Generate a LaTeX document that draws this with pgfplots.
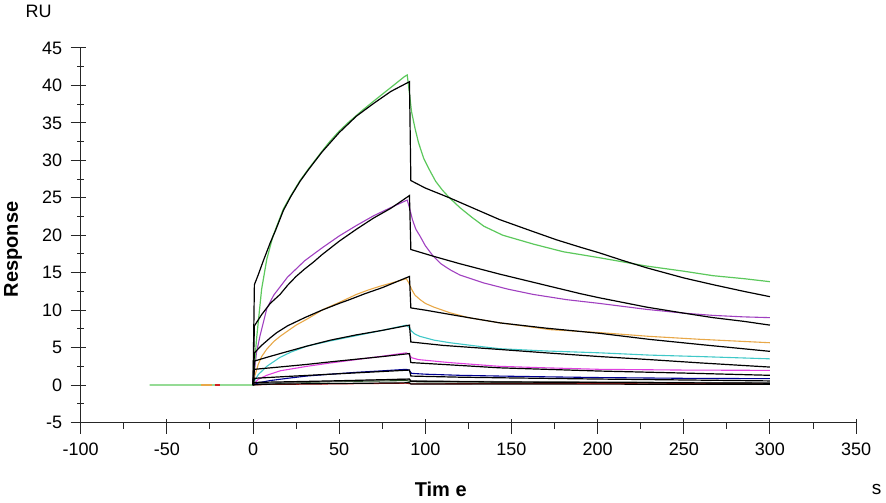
\documentclass[border=0pt]{standalone}
\usepackage{fontspec}
\setmainfont{Liberation Sans}
\usepackage{pgfplots}
\pgfplotsset{compat=1.18}
\definecolor{cgreen}{HTML}{5CC85C}
\definecolor{cviolet}{HTML}{A040C0}
\definecolor{corange}{HTML}{E8A848}
\definecolor{ccyan}{HTML}{40C8C8}
\definecolor{cmag}{HTML}{E040E0}
\definecolor{cnavy}{HTML}{000090}
\definecolor{cgrey}{HTML}{808080}
\definecolor{cdkgreen}{HTML}{1E4A1E}
\definecolor{cred}{HTML}{D02020}
\begin{document}
\begin{tikzpicture}
\begin{axis}[
  at={(0,0)}, anchor=south west,
  scale only axis, width=387.7pt, height=187.25pt,
  xmin=-100, xmax=350, ymin=-5, ymax=45,
  axis lines=left, axis line style={-, black!85, line width=0.5pt},
  xtick={-100,-50,...,350}, ytick={-5,0,...,45},
  minor x tick num=1, minor y tick num=1,
  tick align=center,
  major tick length=7.5pt, minor tick length=3.5pt,
  every major x tick/.append style={yshift=-1.75pt},
  every minor x tick/.append style={yshift=-1.25pt},
  every major y tick/.append style={xshift=-1.25pt},
  tick style={black!85, line width=0.5pt},
  /pgf/number format/assume math mode=true,
  ticklabel style={font=\fontsize{9}{11}\selectfont},
  xticklabel style={yshift=-3pt},
  yticklabel style={xshift=-2pt},
  every axis plot/.append style={line width=0.55pt, mark=none},
]
% --- data curves (lowest first) ---
\addplot[cred] coordinates {(0,0) (5,0.05) (10,0.1) (20,0.1) (45,0.15) (89,0.25) (92,0.15) (150,0.2) (200,0.2) (235,0.15) (250,0.2) (300,0.2)};
\addplot[cdkgreen] coordinates {(0,0) (20,0.3) (45,0.45) (89,0.6) (92,0.45) (200,0.35) (300,0.3)};
\addplot[cgrey] coordinates {(0,0) (3,0.15) (20,0.35) (45,0.5) (70,0.65) (89,0.8) (92,0.6) (120,0.5) (150,0.45) (200,0.4) (250,0.35) (300,0.3)};
\addplot[cnavy] coordinates {(0,0) (3,0.3) (10,0.6) (20,0.9) (31,1.2) (45,1.45) (60,1.7) (75,1.9) (89,2.1) (90.5,2.0) (92,1.56) (100,1.45) (120,1.3) (143,1.2) (170,1.1) (201,1.0) (250,0.9) (300,0.85)};
\addplot[cmag] coordinates {(0,0) (1,0.3) (3,0.76) (8,1.3) (15.7,1.9) (31.3,2.5) (45,2.95) (60,3.4) (75,3.85) (89,4.3) (90.5,4.1) (92,3.65) (96,3.4) (105,3.2) (114,3.0) (143,2.5) (170,2.3) (201,2.1) (250,2.0) (300,1.96)};
\addplot[ccyan] coordinates {(0,0) (1,0.6) (3.1,1.4) (8,2.5) (15.7,3.7) (22,4.4) (31.3,5.2) (45,5.9) (60,6.6) (75,7.3) (89,8.0) (90.5,7.7) (92,7.2) (94,6.8) (96.9,6.5) (105,6.0) (114.3,5.65) (130,5.2) (143.3,4.85) (170,4.55) (201.4,4.3) (230,4.0) (260,3.8) (300,3.5)};
\addplot[corange] coordinates {(0,0) (1,1.2) (3.1,2.8) (5,3.8) (8,4.8) (12,5.8) (15.7,6.5) (20,7.2) (25,8.0) (31.3,8.8) (40.8,10.1) (50.7,11.1) (60,12.1) (67,12.7) (73.8,13.2) (80,13.6) (89,14.2) (90.5,13.6) (92,12.8) (94,12.0) (97,11.4) (100,10.9) (105,10.4) (114.3,9.65) (125,9.0) (143.3,8.3) (160,7.8) (172.3,7.4) (201.4,7.0) (230,6.5) (260,6.1) (300,5.65)};
\addplot[cviolet] coordinates {(0,0) (1,2.2) (2,4.3) (4,6.5) (8,10.2) (12,12) (16,13.2) (20,14.4) (25,15.5) (30,16.6) (40,18.3) (50,19.9) (60,21.3) (70,22.6) (80,23.7) (89.5,24.7) (91,23.5) (92.5,22.1) (94.5,20.8) (96.9,19.9) (100,18.6) (104.6,17.2) (109,16.2) (114.3,15.4) (120,14.7) (133.6,13.65) (148,12.8) (162.6,12.1) (182,11.4) (201,10.9) (228.5,10.1) (250,9.6) (267,9.3) (285,9.1) (300,9.0)};
\addplot[cgreen, line width=0.6pt] coordinates {(-60,0) (0,0) (1,3) (2,6) (3,8.3) (5,12.8) (8,16.8) (11.6,19.9) (17.6,23.5) (22,25.3) (27.3,27.3) (32,28.8) (40,31.2) (44.5,32.5) (50,33.9) (56,35.2) (63.6,36.7) (70,37.9) (76,39) (82,40.1) (88,41.2) (89.5,41.4) (90.5,39.5) (92,36.5) (94,34.3) (96,32.4) (99,30.3) (102,28.9) (106,27.2) (110,26) (114,25) (120,23.7) (127,22.4) (134,21.2) (145,20) (163,18.8) (180,17.8) (201,17.0) (228,15.9) (250,15.2) (267,14.6) (285,14.2) (300,13.8)};
\addplot[corange, line width=0.6pt] coordinates {(-30,0) (-24,0)};
\addplot[cred, line width=0.6pt] coordinates {(-22,0) (-19,0)};
% --- fitted curves (black) ---
\addplot[black, line width=0.6pt] coordinates {(0,0) (0.8,0.1) (90.8,0.3) (91.6,0.15) (300,0.1)};
\addplot[black, line width=0.6pt] coordinates {(0,0) (0.8,0.35) (45,0.55) (90.8,0.8) (91.6,0.5) (150,0.4) (200,0.35) (300,0.25)};
\addplot[black, line width=0.6pt] coordinates {(0,0) (0.8,0.9) (20,1.15) (45,1.45) (70,1.75) (90.8,2.0) (91.6,1.2) (120,1.05) (150,0.95) (201,0.8) (250,0.68) (300,0.55)};
\addplot[black, line width=0.6pt] coordinates {(0,0) (0.8,2.1) (15,2.4) (31,2.75) (45,3.1) (60,3.45) (75,3.8) (90.8,4.2) (91.6,3.0) (114,2.7) (143,2.3) (170,2.1) (201,1.87) (250,1.6) (300,1.3)};
\addplot[black, line width=0.6pt] coordinates {(0,0) (0.8,3.2) (8,3.7) (15.7,4.2) (31.3,5.2) (45,6.0) (60,6.7) (75,7.3) (90.8,8.0) (91.6,5.75) (110,5.3) (143.3,4.75) (170,4.3) (201.4,3.8) (230,3.4) (260,2.95) (300,2.4)};
\addplot[black, line width=0.6pt] coordinates {(0,0) (0.8,4.3) (5,5.3) (10,6.3) (13.8,7.0) (20,7.9) (30,9.0) (40,10.0) (50,10.9) (56,11.4) (65,12.2) (75,13.0) (90.8,14.5) (91.6,10.3) (100,10.0) (120,9.2) (143.3,8.3) (170,7.6) (201.4,6.9) (230,6.1) (260,5.4) (300,4.5)};
\addplot[black, line width=0.6pt] coordinates {(0,0) (0.8,7.9) (5,9.4) (10,10.9) (15.7,12.1) (20,13.3) (25,14.5) (30,15.5) (35,16.4) (40,17.4) (50,19.2) (60,20.8) (70,22.3) (80,23.6) (90.8,25.3) (91.6,18.1) (104.6,17.2) (120,16.2) (143.3,14.8) (172,13.2) (190,12.2) (201,11.65) (228.5,10.4) (250,9.6) (267,9.0) (285,8.5) (300,8.0)};
\addplot[black, line width=0.6pt] coordinates {(0,0) (0.8,13.4) (3,14.7) (6,16.6) (10,19) (13,20.6) (17.6,23.3) (22,25.2) (27.3,27.2) (32,28.7) (40,31.1) (50,33.7) (60,35.9) (70,37.6) (80,39.2) (90.8,40.5) (91.6,27.3) (100,26.3) (114,25.0) (130,23.4) (143,22.1) (160,20.7) (176,19.4) (190,18.4) (201,17.65) (215,16.6) (228.5,15.65) (250,14.3) (267,13.4) (285,12.5) (300,11.8)};
\end{axis}
\node[font=\fontsize{9}{11}\selectfont] at (-21pt,205.5pt) {RU};
\node[font=\fontsize{10}{12}\selectfont\bfseries, rotate=90] at (-33.8pt,86.5pt) {Response};
\node[font=\fontsize{10}{12}\selectfont\bfseries] at (180pt,-33.5pt) {Tim e};
\node[font=\fontsize{9.5}{11}\selectfont] at (398pt,-33.5pt) {s};
\pgfresetboundingbox
\useasboundingbox (-40.35pt,-39.75pt) rectangle (402.65pt,211.25pt);
\end{tikzpicture}
\end{document}
